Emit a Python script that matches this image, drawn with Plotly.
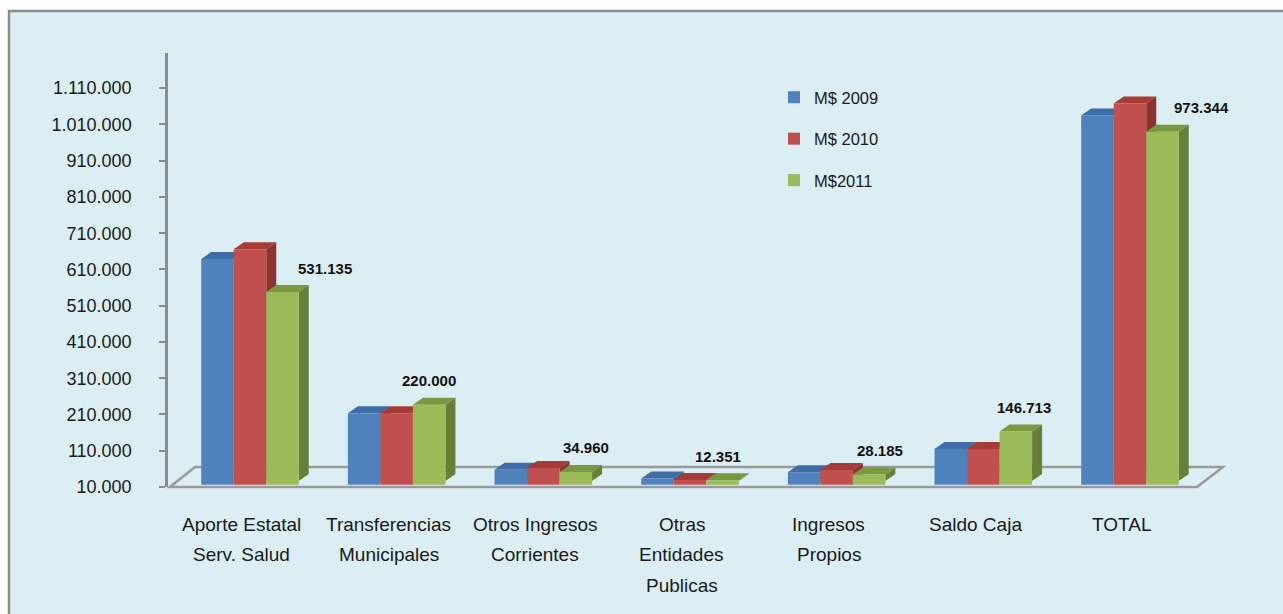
import plotly.graph_objects as go

categories = [
    ["Aporte Estatal", "Serv. Salud"],
    ["Transferencias", "Municipales"],
    ["Otros Ingresos", "Corrientes"],
    ["Otras", "Entidades", "Publicas"],
    ["Ingresos", "Propios"],
    ["Saldo Caja"],
    ["TOTAL"],
]
series_names = ["M$ 2009", "M$ 2010", "M$2011"]
values_2009 = [622000, 197000, 41000, 17000, 34000, 98000, 1018000]
values_2010 = [649000, 197000, 46000, 12500, 40000, 98000, 1051000]
values_2011 = [531135, 220000, 34960, 12351, 28185, 146713, 973344]
y_tickvals = [10000 + 100000 * k for k in range(12)]

# colours: front, top, side
colors = [
    ("#4F81BD", "#3E6DA8", "#35598A"),
    ("#C0504D", "#A63A37", "#8E3330"),
    ("#9BBB59", "#7A9741", "#687F38"),
]
label_xshift = [43, 0, 10, -4, 11, 8, 39]

W, H = 1283, 614
ML, MR, MT, MB = 168, 80, 53, 127
PW, PH = W - ML - MR, H - MT - MB
XR = [-0.559, 6.498]
YR0 = [10000, 1207000]
px_x = PW / (XR[1] - XR[0])
u_y = (YR0[1] - YR0[0]) / PH
base_shift = 6 * u_y  # bars stand a few px above the front floor edge
YR = [YR0[0] - base_shift, YR0[1] - base_shift]

group_w = 0.665
bw = group_w / 3
ddx = 10 / px_x
ddy = 7 * u_y

fig = go.Figure()
all_vals = [values_2009, values_2010, values_2011]
xs = list(range(len(categories)))
for j, (name, vals) in enumerate(zip(series_names, all_vals)):
    fig.add_trace(go.Bar(
        x=xs, y=vals, name=name,
        marker=dict(color=colors[j][0], line=dict(width=0)),
        legendgroup=name, hoverinfo="y",
    ))


def pxp(dx, dy):
    return dx / PW, dy / PH


shapes = []
# outer frame
fx0, fy0 = (9 - ML) / PW, (MT + PH - 11) / PH
fx1, fy1 = (1300 - ML) / PW, (MT + PH - 640) / PH
shapes.append(dict(type="rect", xref="paper", yref="paper", x0=fx0, y0=fy1, x1=fx1, y1=fy0,
                   fillcolor="#DBEEF4", line=dict(color="#8C8C8C", width=2.5), layer="below"))

# floor outline
p = [pxp(2, 0), pxp(1029, 0), pxp(1055, 20), pxp(27, 20)]
path = "M {} {} L {} {} L {} {} L {} {} Z".format(*[c for pt in p for c in pt])
shapes.append(dict(type="path", xref="paper", yref="paper", path=path,
                   line=dict(color="#9A9A9A", width=2.5), layer="below"))

# 3D faces of the bars
for j, vals in enumerate(all_vals):
    for i, v in enumerate(vals):
        xl = i - group_w / 2 + j * bw
        xr = xl + bw
        b = YR0[0]
        top = f"M {xl} {v} L {xr} {v} L {xr + ddx} {v + ddy} L {xl + ddx} {v + ddy} Z"
        side = f"M {xr} {b} L {xr} {v} L {xr + ddx} {v + ddy} L {xr + ddx} {b + ddy} Z"
        shapes.append(dict(type="path", xref="x", yref="y", path=side,
                           fillcolor=colors[j][2], line=dict(width=0), layer="below"))
        shapes.append(dict(type="path", xref="x", yref="y", path=top,
                           fillcolor=colors[j][1], line=dict(width=0), layer="below"))

annotations = []
for i, lines in enumerate(categories):
    for k, line in enumerate(lines):
        annotations.append(dict(
            x=i, y=0, xref="x", yref="paper", text=line, showarrow=False,
            xanchor="center", yanchor="middle", xshift=-8, yshift=-37 - 30.5 * k,
            font=dict(family="Arial, Liberation Sans", size=19, color="#1A1A1A"),
        ))

for i, v in enumerate(values_2011):
    xc = i - group_w / 2 + 2.5 * bw
    annotations.append(dict(
        x=xc, y=v, xref="x", yref="y", showarrow=False,
        text="<b>" + f"{v:,}".replace(",", ".") + "</b>",
        xanchor="center", yanchor="middle", xshift=label_xshift[i], yshift=24,
        font=dict(family="Arial, Liberation Sans", size=15, color="#111111"),
    ))

fig.update_layout(
    width=W, height=H,
    margin=dict(l=ML, r=MR, t=MT, b=MB, autoexpand=False),
    paper_bgcolor="white",
    plot_bgcolor="rgba(0,0,0,0)",
    barmode="group",
    bargap=1 - group_w,
    bargroupgap=0,
    xaxis=dict(range=XR, showticklabels=False, showgrid=False, zeroline=False,
               showline=False, ticks=""),
    yaxis=dict(range=YR, tickvals=[t - base_shift for t in y_tickvals],
               ticktext=[f"{t:,}".replace(",", ".") for t in y_tickvals],
               showgrid=False, zeroline=False, showline=True, linecolor="#8C8C8C",
               linewidth=2.5, ticks="outside", ticklen=6, tickcolor="#8C8C8C", tickwidth=2,
               ticklabelstandoff=24,
               tickfont=dict(family="Arial, Liberation Sans", size=18, color="#1A1A1A")),
    showlegend=True,
    legend=dict(x=(774 - ML) / PW, y=(PH + MT - 80) / PH, xanchor="left", yanchor="top",
                bgcolor="rgba(0,0,0,0)", traceorder="grouped", tracegroupgap=17,
                font=dict(family="Arial, Liberation Sans", size=16.5, color="#1A1A1A")),
    shapes=shapes,
    annotations=annotations,
)

fig.write_html("out.html", config={"displayModeBar": False},
               post_script="document.body.style.margin='0';")
